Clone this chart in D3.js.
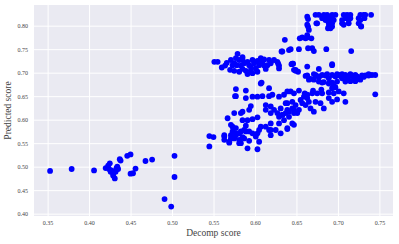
<!DOCTYPE html>
<html lang="en">
	<head>
		<meta charset="utf-8">
		<title>decomp vs predicted</title>
		<script type="text/javascript" src="https://d3js.org/d3.v7.min.js"></script>
		<style type="text/css">
            body{
                margin:0;
                background:#fff;
            }
            text{
                font-family:"Liberation Serif","DejaVu Serif",serif;
            }
		</style>
	</head>
	<body>
        <div id="chart"></div>
		<script type="text/javascript">
            // [decomp score, predicted score]
            var lowCluster = [[0.353,0.491],[0.379,0.495],[0.406,0.492],[0.420,0.497],[0.425,0.507],[0.423,0.502],[0.426,0.489],[0.429,0.486],[0.431,0.475],[0.433,0.497],[0.435,0.495],[0.432,0.489],[0.437,0.516],[0.438,0.513],[0.446,0.523],[0.450,0.526],[0.450,0.485],[0.453,0.486],[0.456,0.496],[0.468,0.512],[0.476,0.515],[0.503,0.523],[0.503,0.478],[0.491,0.431],[0.499,0.415],[0.427,0.492],[0.434,0.500],[0.424,0.495],[0.429,0.481]]

            var topCluster = [[0.673,0.823],[0.677,0.823],[0.683,0.823],[0.687,0.823],[0.693,0.823],[0.697,0.823],[0.707,0.823],[0.711,0.823],[0.715,0.823],[0.727,0.823],[0.731,0.823],[0.733,0.823],[0.740,0.823],
                [0.681,0.816],[0.687,0.816],[0.689,0.816],[0.693,0.816],[0.709,0.816],[0.715,0.816],[0.725,0.816],[0.732,0.816],
                [0.685,0.812],[0.691,0.812],[0.695,0.812],[0.705,0.812],[0.713,0.812],[0.727,0.812],
                [0.675,0.805],[0.689,0.805],[0.693,0.805],[0.705,0.805],[0.713,0.805],[0.725,0.805],
                [0.689,0.798],[0.693,0.798],[0.728,0.798],[0.688,0.7945],[0.691,0.7945],
                [0.664,0.814],[0.664,0.798],[0.665,0.791],[0.657,0.775],[0.654,0.773],[0.663,0.775],[0.668,0.773],[0.636,0.770],[0.633,0.745],[0.643,0.750],[0.653,0.750],[0.664,0.752],[0.669,0.752],[0.671,0.746],[0.686,0.750],[0.716,0.746],[0.663,0.780],[0.661,0.773],[0.674,0.805],[0.707,0.802],[0.728,0.799],[0.663,0.819],[0.663,0.802],
                [0.646,0.719],[0.649,0.706],[0.652,0.702],[0.693,0.716],[0.644,0.718],[0.649,0.704]]

            var leftCluster = [[0.551,0.723],[0.555,0.723],[0.564,0.715],[0.571,0.727],[0.573,0.716],[0.570,0.706],[0.575,0.704],[0.581,0.702],[0.577,0.731],[0.581,0.727],[0.585,0.727],[0.587,0.720],[0.591,0.723],[0.593,0.716],[0.597,0.727],[0.599,0.720],[0.601,0.709],[0.603,0.702],[0.607,0.731],[0.609,0.723],[0.611,0.715],[0.613,0.708],[0.617,0.727],[0.619,0.720],[0.623,0.727],[0.629,0.715],[0.627,0.723],[0.632,0.745],[0.641,0.748],[0.585,0.708],[0.589,0.704],[0.595,0.704],[0.597,0.699],[0.591,0.697],[0.583,0.715],[0.578,0.716],[0.605,0.716],[0.615,0.716],[0.579,0.740],[0.628,0.719],[0.629,0.709],[0.645,0.719],[0.647,0.706],[0.608,0.679],
                [0.566,0.721],[0.575,0.720],[0.595,0.712],[0.603,0.725],[0.611,0.728],[0.585,0.733],[0.560,0.711]]

            var rightCluster = [[0.663,0.713],[0.677,0.708],[0.693,0.718],[0.663,0.694],[0.667,0.687],[0.673,0.695],[0.677,0.692],[0.681,0.695],[0.685,0.694],[0.689,0.688],[0.693,0.695],[0.697,0.692],[0.701,0.695],[0.705,0.688],[0.709,0.695],[0.713,0.692],[0.717,0.694],[0.721,0.695],[0.725,0.688],[0.729,0.694],[0.733,0.694],[0.737,0.694],[0.741,0.695],[0.745,0.695],[0.677,0.681],[0.683,0.680],[0.689,0.677],[0.693,0.667],[0.695,0.672],[0.699,0.681],[0.709,0.681],[0.715,0.682],[0.721,0.682],[0.727,0.685],[0.745,0.654],[0.661,0.693],[0.665,0.685],[0.671,0.685],[0.677,0.690],[0.703,0.693],[0.737,0.697],[0.693,0.679],[0.697,0.669],[0.681,0.679],
                [0.671,0.697],[0.687,0.697],[0.699,0.697],[0.711,0.690],[0.719,0.690],[0.731,0.691],[0.705,0.697],[0.715,0.697],[0.723,0.692]]

            var midCluster = [[0.607,0.677],[0.617,0.667],[0.577,0.650],[0.589,0.646],[0.597,0.649],[0.603,0.649],[0.609,0.650],[0.617,0.650],[0.621,0.653],[0.629,0.649],[0.635,0.653],[0.643,0.660],[0.647,0.656],[0.645,0.638],[0.639,0.635],[0.595,0.629],[0.593,0.621],[0.585,0.617],[0.583,0.614],[0.575,0.614],[0.613,0.631],[0.619,0.628],[0.623,0.621],[0.627,0.614],[0.629,0.606],[0.633,0.610],[0.637,0.614],[0.641,0.617],[0.647,0.621],[0.651,0.614],[0.619,0.614],[0.613,0.621],[0.597,0.601],[0.585,0.599],[0.591,0.599],[0.589,0.587],[0.577,0.582],[0.573,0.575],[0.571,0.567],[0.577,0.571],[0.583,0.575],[0.587,0.578],[0.593,0.575],[0.597,0.571],[0.605,0.578],[0.613,0.585],[0.619,0.592],[0.619,0.578],[0.625,0.578],[0.631,0.571],[0.639,0.580],[0.645,0.592],
                [0.545,0.565],[0.550,0.563],[0.563,0.564],[0.563,0.557],[0.569,0.553],[0.575,0.560],[0.581,0.557],[0.581,0.550],[0.587,0.560],[0.593,0.555],[0.601,0.564],[0.605,0.553],[0.545,0.543],[0.591,0.539],[0.563,0.567],[0.571,0.560],[0.577,0.567],[0.581,0.571],[0.583,0.550],[0.585,0.563],[0.589,0.575],[0.603,0.571],[0.603,0.537],[0.569,0.551],[0.607,0.585],[0.617,0.578],[0.619,0.567],[0.573,0.585],[0.571,0.589],
                [0.577,0.665],[0.589,0.662],[0.576,0.650],[0.567,0.603],[0.603,0.605]]

            var diagCluster = [[0.631,0.624],[0.633,0.610],[0.635,0.599],[0.639,0.621],[0.641,0.606],[0.645,0.624],[0.649,0.631],[0.647,0.614],[0.653,0.621],[0.657,0.635],[0.659,0.649],[0.663,0.653],[0.665,0.638],[0.667,0.624],[0.669,0.656],[0.673,0.638],[0.675,0.656],[0.679,0.635],[0.681,0.656],[0.683,0.624],[0.689,0.646],[0.693,0.638],[0.695,0.656],[0.671,0.617],[0.639,0.660],[0.637,0.635],[0.647,0.589],[0.639,0.582],[0.629,0.592],[0.655,0.642],[0.661,0.631],[0.663,0.646],
                [0.653,0.662],[0.660,0.656],[0.670,0.662],[0.680,0.664],[0.689,0.658],[0.699,0.643],[0.701,0.660],[0.707,0.656],[0.709,0.638]]

            var xTicks = [0.35,0.40,0.45,0.50,0.55,0.60,0.65,0.70,0.75]
            var yTicks = [0.40,0.45,0.50,0.55,0.60,0.65,0.70,0.75,0.80]

            var points = lowCluster.concat(topCluster, leftCluster, rightCluster, midCluster, diagCluster)

            var W = 399, H = 244
            var plotL = 34, plotR = 393, plotT = 5, plotB = 216

            var svg = d3.select("#chart").append("svg")
                .attr("width",W).attr("height",H)

            var x = d3.scaleLinear().domain([0.3336,0.7664]).range([plotL,plotR])
            var y = d3.scaleLinear().domain([0.395,0.844]).range([plotB,plotT])

            svg.append("rect")
                .attr("x",plotL).attr("y",plotT)
                .attr("width",plotR-plotL).attr("height",plotB-plotT)
                .attr("fill","#eaeaf2")

            svg.append("g")
                .attr("transform","translate(0,"+plotB+")")
                .call(d3.axisBottom(x).tickValues(xTicks).tickFormat(d3.format(".2f")).tickSize(-(plotB-plotT)).tickPadding(5))
            svg.append("g")
                .attr("transform","translate("+plotL+",0)")
                .call(d3.axisLeft(y).tickValues(yTicks).tickFormat(d3.format(".2f")).tickSize(-(plotR-plotL)).tickPadding(6))

            svg.selectAll(".domain").remove()
            svg.selectAll(".tick line").attr("stroke","#fff").attr("stroke-width",1)
            svg.selectAll(".tick text").attr("fill","#444").style("font-size","6px")

            svg.append("g").selectAll("circle")
                .data(points)
                .enter().append("circle")
                .attr("cx",function(d){ return x(d[0]) })
                .attr("cy",function(d){ return y(d[1]) })
                .attr("r",2.9)
                .attr("fill","#0000ff")

            svg.append("text")
                .attr("x",(plotL+plotR)/2).attr("y",236)
                .attr("text-anchor","middle")
                .attr("fill","#444")
                .style("font-size","9.5px")
                .text("Decomp score")

            svg.append("text")
                .attr("transform","translate(11,"+((plotT+plotB)/2)+") rotate(-90)")
                .attr("text-anchor","middle")
                .attr("fill","#444")
                .style("font-size","9.5px")
                .text("Predicted score")
		</script>
	</body>
</html>
